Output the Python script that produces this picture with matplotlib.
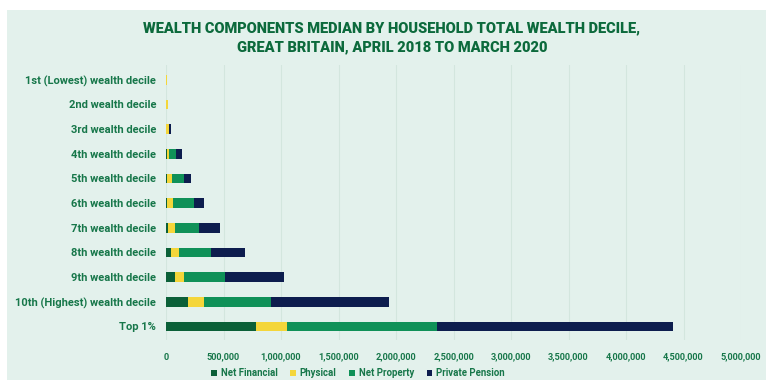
import numpy as np
import matplotlib.pyplot as plt
from matplotlib.patches import Rectangle
from matplotlib.ticker import FuncFormatter

deciles = ['1st (Lowest) wealth decile', '2nd wealth decile', '3rd wealth decile',
           '4th wealth decile', '5th wealth decile', '6th wealth decile',
           '7th wealth decile', '8th wealth decile', '9th wealth decile',
           '10th (Highest) wealth decile', 'Top 1%']
net_financial = [1000, 2000, 3000, 5000, 8000, 12000, 20000, 40000, 75000, 195000, 780000]
physical = [8000, 16000, 22000, 25000, 40000, 50000, 60000, 70000, 85000, 135000, 270000]
net_property = [0, 0, 2000, 60000, 110000, 180000, 210000, 280000, 350000, 580000, 1310000]
private_pension = [0, 0, 20000, 45000, 60000, 90000, 180000, 300000, 520000, 1030000, 2050000]

series = [('Net Financial', net_financial, '#0b6038'),
          ('Physical', physical, '#f4d63a'),
          ('Net Property', net_property, '#0f9158'),
          ('Private Pension', private_pension, '#0d1d4e')]

bg = '#e3f1ec'
txt = '#17774a'
plt.rcParams['font.family'] = ['Roboto', 'DejaVu Sans']

fig = plt.figure(figsize=(7.66, 3.8), dpi=100, facecolor='white')
fig.patches.append(Rectangle((7/766, 0), 1 - 7/766, 1 - 10/380,
                             transform=fig.transFigure, facecolor=bg,
                             edgecolor='none', zorder=-10))

ax = fig.add_axes([166/766, 40/380, (741-166)/766, (340-65)/380])
ax.set_facecolor('none')

y = np.arange(len(deciles))
left = np.zeros(len(deciles))
for name, vals, col in series:
    ax.barh(y, vals, left=left, height=0.4, color=col, label=name, zorder=3)
    left += np.array(vals)

ax.set_xlim(0, 5000000)
ax.set_ylim(10.55, -0.6)
ax.set_xticks(np.arange(0, 5000001, 500000))
ax.xaxis.set_major_formatter(FuncFormatter(lambda v, p: f'{int(v):,}'))
ax.set_yticks(y)
ax.set_yticklabels(deciles)
ax.grid(axis='x', color='#d3e6de', linewidth=0.8, zorder=0)
for s in ax.spines.values():
    s.set_visible(False)
ax.tick_params(length=0, colors=txt)
ax.tick_params(axis='y', pad=7, labelsize=8)
ax.tick_params(axis='x', pad=9, labelsize=6.6)
for lab in ax.get_yticklabels() + ax.get_xticklabels():
    lab.set_fontweight('bold')
    lab.set_color(txt)

fig.text(392/766, 1 - 28/380, 'WEALTH COMPONENTS MEDIAN BY HOUSEHOLD TOTAL WEALTH DECILE,',
         ha='center', va='center', fontsize=10.5, fontweight='heavy', color='#0c6a3c')
fig.text(392/766, 1 - 47/380, 'GREAT BRITAIN, APRIL 2018 TO MARCH 2020',
         ha='center', va='center', fontsize=10.5, fontweight='heavy', color='#0c6a3c')

leg = fig.legend(loc='center', bbox_to_anchor=(358/766, 1 - 373/380), ncol=4,
                 frameon=False, fontsize=6.9, handlelength=0.6, handleheight=0.6,
                 handletextpad=0.4, columnspacing=1.3)
for t in leg.get_texts():
    t.set_color(txt)
    t.set_fontweight('bold')

fig.savefig('out.png', dpi=100, facecolor='white')
